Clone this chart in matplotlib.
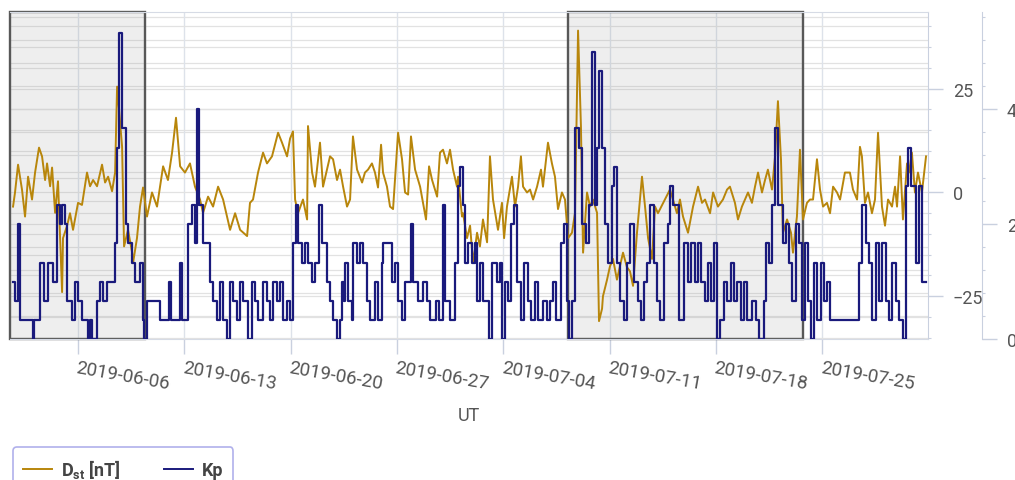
import numpy as np
import matplotlib
matplotlib.use("Agg")
import matplotlib.pyplot as plt
import matplotlib.dates as mdates
from matplotlib.ticker import MultipleLocator
from matplotlib.lines import Line2D

# Dst index [nT], sample times in days since 2019-06-01 00:00 UT
dst_day = [
    0.72, 0.85, 1.05, 1.31, 1.51, 1.71, 1.97, 2.17, 2.43, 2.63, 2.83, 2.96, 3.16, 3.29, 3.49, 3.68,
    3.95, 4.01, 4.28, 4.47, 4.67, 5.00, 5.26, 5.59, 5.79, 5.99, 6.25, 6.58, 6.78, 6.98, 7.24, 7.44,
    7.57, 7.70, 7.90, 8.03, 8.29, 8.56, 8.62, 8.88, 9.08, 9.28, 9.54, 9.87, 10.20, 10.60, 10.92, 11.19,
    11.45, 11.72, 12.04, 12.37, 12.70, 13.03, 13.23, 13.56, 13.89, 14.22, 14.55, 15.01, 15.34, 15.67,
    16.13, 16.32, 16.52, 16.85, 17.18, 17.44, 17.77, 18.17, 18.43, 18.76, 18.96, 19.15, 19.29, 19.48,
    19.81, 20.08, 20.14, 20.41, 20.60, 20.93, 21.13, 21.59, 21.79, 22.05, 22.25, 22.45, 22.71, 22.91,
    23.10, 23.37, 23.70, 23.89, 24.09, 24.35, 24.55, 24.75, 24.95, 25.08, 25.34, 25.54, 25.74, 26.07,
    26.33, 26.53, 26.73, 26.92, 27.19, 27.52, 27.91, 28.11, 28.31, 28.64, 28.83, 29.03, 29.29, 29.49,
    29.69, 29.95, 30.02, 30.28, 30.35, 30.61, 30.81, 31.01, 31.27, 31.46, 31.66, 31.93, 32.12, 32.32,
    32.65, 32.91, 33.05, 33.24, 33.57, 33.77, 33.97, 34.16, 34.30, 34.56, 34.76, 34.96, 35.22, 35.48,
    35.61, 35.94, 36.20, 36.40, 36.60, 36.86, 37.06, 37.26, 37.52, 37.72, 37.92, 38.11, 38.25, 38.51,
    38.71, 38.90, 39.17, 39.30, 39.50, 39.56, 39.83, 40.02, 40.22, 40.48, 40.68, 40.88, 41.14, 41.34,
    41.54, 41.80, 42.13, 42.33, 42.53, 42.79, 42.99, 43.18, 43.64, 43.97, 44.17, 44.43, 44.63, 44.83,
    45.16, 45.49, 45.82, 46.08, 46.28, 46.61, 46.81, 47.13, 47.46, 47.73, 47.92, 48.25, 48.45, 48.71,
    48.91, 49.11, 49.37, 49.57, 49.77, 50.03, 50.23, 50.42, 50.69, 50.89, 51.08, 51.28, 51.41, 51.68,
    51.94, 52.07, 52.33, 52.53, 52.73, 52.99, 53.19, 53.39, 53.65, 53.85, 54.05, 54.31, 54.51, 54.71,
    54.97, 55.17, 55.49, 55.82, 56.02, 56.29, 56.48, 56.61, 56.81, 57.01, 57.27, 57.47, 57.67, 57.93,
    58.13, 58.33, 58.59, 58.79, 58.92, 59.12, 59.31, 59.58, 59.71, 59.90, 60.10, 60.30, 60.56, 60.83,
]
dst_val = [
    -3.4, 0.0, 6.7, 0.7, -5.8, 3.8, -1.7, 4.8, 10.8, 8.7, 3.0, 7.0, 1.5, 6.0, -4.9, 2.7,
    -24.0, -11.0, -8.0, -5.0, -9.0, -2.5, -3.0, 4.8, 1.5, 3.0, 1.5, 6.7, 2.4, 3.8, 0.3, 4.8,
    25.5, 20.0, 11.0, -13.0, -9.0, -14.5, -17.0, -11.0, -3.4, 1.2, -5.8, 0.0, -3.4, 6.3, 3.0, 9.6,
    18.0, 6.3, 4.8, 7.0, 1.4, -1.7, -4.9, -1.0, -3.4, 1.4, -1.7, -9.0, -5.0, -9.0,
    -10.5, -2.5, -1.7, 4.8, 9.6, 7.0, 8.7, 14.4, 12.0, 8.7, 13.0, 14.7, -1.7, -5.0,
    -1.7, -6.5, 16.0, 4.8, 1.4, 12.0, 1.4, 8.7, 8.0, 3.0, 5.5, 1.4, -3.4, -1.7,
    13.5, 5.5, 2.4, 4.8, 5.5, 7.0, 4.8, 1.2, 11.5, 4.8, 1.4, -3.4, -4.0, 14.4,
    8.0, 0.0, -0.5, 13.5, 5.5, 1.4, -6.5, 6.3, 3.0, -1.0, 9.6, 10.3, 7.0, 10.3,
    5.5, 1.4, 3.8, -5.8, -5.0, -11.0, -8.0, -17.0, -9.7, -13.0, -6.5, -12.0, 8.7, -1.7,
    -9.0, -2.5, -11.0, -3.4, 3.8, -3.4, 1.4, 8.7, 1.4, 0.0, 0.7, -1.7, 1.4, 5.5,
    1.4, 12.0, 7.0, 3.8, -4.0, 0.0, -1.7, -11.0, -9.7, -4.9, 39.0, 16.0, -14.5, 0.0,
    -3.4, -1.7, -4.9, -31.0, -28.0, -25.0, -21.0, -17.8, -16.0, -21.0, -17.8, -14.5, -18.0, -19.0,
    -22.5, -9.7, 3.8, -3.4, -11.0, -16.0, -3.4, -5.0, -1.7, 0.7, -1.7, -5.0, -1.7, -5.8,
    -9.7, -3.4, 1.4, -2.5, -1.7, -5.0, 0.0, -3.4, -1.7, 0.7, 1.4, -2.5, -6.5, -3.4,
    -1.7, 0.0, -2.5, 1.4, 4.8, 0.0, 3.0, 5.5, 0.7, 8.7, 22.0, 8.0, -9.7, -6.5,
    -9.7, -14.5, -5.8, 10.3, -6.5, -2.5, -1.7, -1.7, 8.0, 0.7, -3.4, -2.5, -5.0, 1.4,
    0.0, -1.7, 4.8, 4.8, 0.7, -1.7, 11.0, 8.7, -2.5, 0.0, -5.0, -1.7, 14.4, -3.4,
    -8.0, -1.7, -3.4, 1.4, -3.4, 8.7, -6.5, 7.0, 4.8, 9.6, 0.0, 4.8, 0.0, 8.7,
]

# Kp index, value held from each time until the next one
kp_day = [
    0.72, 0.85, 1.05, 1.18, 2.04, 2.10, 2.50, 2.76, 3.03, 3.36, 3.62, 3.82, 3.95, 4.14, 4.28, 4.61,
    4.80, 5.00, 5.26, 5.66, 5.79, 5.92, 6.25, 6.45, 6.65, 6.91, 7.44, 7.57, 7.70, 7.90, 8.16, 8.29,
    8.56, 8.75, 9.08, 9.28, 9.34, 9.54, 10.40, 10.99, 11.12, 11.72, 11.85, 12.24, 12.51, 12.70,
    12.83, 12.97, 13.23, 13.69, 13.89, 14.15, 14.35, 14.55, 14.81, 15.01, 15.21, 15.47, 15.67, 15.86,
    16.19, 16.46, 16.65, 16.85, 17.18, 17.44, 17.64, 17.84, 18.10, 18.30, 18.50, 18.76, 18.96, 19.15,
    19.35, 19.48, 19.75, 19.94, 20.14, 20.41, 20.60, 20.87, 21.06, 21.39, 21.59, 21.79, 22.05, 22.25,
    22.38, 22.51, 22.58, 22.78, 23.04, 23.10, 23.37, 23.57, 23.76, 24.03, 24.22, 24.55, 24.75, 25.01,
    25.08, 25.67, 25.87, 26.07, 26.33, 26.53, 26.92, 27.06, 27.38, 27.71, 27.98, 28.17, 28.57, 28.77,
    29.03, 29.16, 29.49, 29.82, 30.02, 30.15, 30.35, 30.48, 30.68, 30.94, 31.14, 31.27, 31.46, 31.66,
    32.06, 32.26, 32.58, 32.78, 32.91, 33.11, 33.31, 33.51, 33.70, 33.90, 34.16, 34.36, 34.63, 34.82,
    35.09, 35.28, 35.61, 35.88, 36.07, 36.27, 36.47, 36.80, 36.99, 37.19, 37.32, 37.52, 37.72, 37.98,
    38.18, 38.45, 38.64, 38.84, 39.04, 39.17, 39.30, 39.50, 39.70, 39.89, 40.15, 40.29, 40.48, 40.68,
    40.94, 41.14, 41.34, 41.60, 41.87, 42.06, 42.26, 42.46, 42.66, 42.92, 43.12, 43.32, 43.58, 43.84,
    43.97, 44.17, 44.57, 44.90, 45.16, 45.36, 45.62, 45.82, 46.01, 46.28, 46.48, 46.67, 46.87, 47.07,
    47.27, 47.53, 47.73, 47.99, 48.19, 48.38, 48.65, 48.84, 49.04, 49.37, 49.64, 49.84, 50.16, 50.29,
    50.49, 50.69, 50.89, 51.08, 51.41, 51.61, 51.81, 52.01, 52.27, 52.47, 52.66, 52.86, 53.06, 53.26,
    53.45, 53.65, 53.91, 54.11, 54.31, 54.51, 56.42, 56.61, 56.88, 57.07, 57.27, 57.53, 57.73, 57.93,
    58.19, 58.39, 58.59, 58.85, 59.05, 59.31, 59.51, 59.64, 59.84, 60.17, 60.37, 60.56, 60.83,
]
kp_val = [
    1.0, 0.67, 2.0, 0.33, 0.0, 0.33, 1.33, 0.67, 1.33, 1.0, 2.33, 2.0, 2.33, 2.0, 0.67, 0.33,
    1.0, 0.67, 0.33, 0.0, 0.33, 0.0, 0.67, 1.0, 0.67, 1.0, 1.67, 3.33, 5.33, 3.67, 2.0, 1.67,
    1.33, 1.0, 1.33, 0.33, 0.0, 0.67, 0.33, 1.0, 0.33, 1.33, 0.33, 2.0, 2.33, 1.67,
    4.0, 2.33, 1.67, 1.0, 0.67, 0.33, 1.0, 0.33, 0.0, 1.0, 0.67, 0.33, 1.0, 0.67,
    0.0, 1.0, 0.67, 0.33, 1.0, 0.67, 0.33, 1.0, 0.67, 1.0, 0.33, 0.67, 0.33, 1.67,
    2.33, 1.67, 1.33, 1.67, 1.33, 1.0, 1.33, 2.33, 1.67, 1.0, 0.67, 0.33, 0.0, 0.33,
    1.0, 0.67, 1.33, 0.67, 0.33, 1.67, 1.33, 1.67, 1.33, 0.67, 0.33, 1.0, 0.33, 1.33,
    1.67, 1.0, 1.33, 0.67, 0.33, 1.0, 2.0, 1.0, 0.67, 1.0, 0.67, 0.33, 0.67, 0.33,
    2.33, 0.67, 0.33, 1.33, 2.67, 3.0, 2.33, 1.33, 1.67, 1.33, 1.67, 0.67, 1.33, 0.67,
    0.0, 1.33, 1.0, 1.33, 0.0, 1.0, 0.67, 2.0, 2.33, 1.0, 0.33, 1.33, 0.67, 0.33,
    1.0, 0.33, 0.67, 0.33, 0.67, 1.0, 0.33, 1.67, 2.0, 0.67, 0.0, 0.67, 3.67, 3.33,
    2.0, 1.67, 2.33, 5.0, 2.33, 3.33, 4.67, 3.33, 2.0, 1.33, 2.67, 3.0, 1.33, 0.67,
    0.33, 1.33, 2.0, 1.0, 0.67, 0.33, 1.0, 1.33, 2.33, 1.33, 0.67, 0.33, 1.67, 2.0,
    2.67, 2.33, 0.33, 1.67, 1.0, 1.67, 1.0, 1.67, 1.0, 0.67, 1.33, 0.67, 1.67, 0.0,
    0.33, 1.0, 0.67, 1.33, 0.67, 1.0, 0.33, 1.0, 0.33, 0.67, 0.33, 0.0, 0.67, 1.67,
    1.33, 2.33, 3.67, 2.33, 1.67, 2.0, 1.33, 0.67, 2.0, 1.67, 0.33, 1.67, 0.67, 0.0,
    1.33, 0.33, 1.33, 0.67, 1.0, 0.33, 1.33, 2.33, 1.67, 1.33, 0.33, 1.67, 0.67, 1.67,
    0.67, 0.33, 1.33, 0.67, 0.33, 0.0, 2.67, 3.33, 2.67, 1.33, 2.67, 1.0, 1.0,
]

# shaded intervals (days since 2019-06-01)
box_start = [0.52, 37.26]
box_end = [9.41, 52.73]

dst_label = r"$\mathbf{D_{st}}$ [nT]"
kp_label = "Kp"

plt.rcParams["font.family"] = ["Roboto", "DejaVu Sans"]
plt.rcParams["mathtext.fontset"] = "custom"
plt.rcParams["mathtext.rm"] = "Roboto"
plt.rcParams["mathtext.bf"] = "Roboto:bold"

text_c = "#555555"
axis_c = "#c9d0df"
grid_c = "#e2e2e2"
dst_c = "#b8860b"
kp_c = "#1a1a7c"

t0 = mdates.datestr2num("2019-06-01")
dst_t = t0 + np.array(dst_day)
kp_t = t0 + np.array(kp_day)

fig = plt.figure(figsize=(10.15, 4.81), dpi=100)
ax = fig.add_axes([10 / 1015, 1 - 340 / 481, 918 / 1015, 327.5 / 481])

dst_lim = (-35.3, 43.6)
kp_lim = (0, 5.7)

ax.set_xlim(t0 + 0.52, t0 + 60.96)
ax.set_ylim(*dst_lim)

# grid: week lines, Dst every 5 nT, Kp every 0.4
ax.set_axisbelow(True)
ax.xaxis.set_major_locator(mdates.WeekdayLocator(byweekday=mdates.TH))
ax.xaxis.set_major_formatter(mdates.DateFormatter("%Y-%m-%d"))
ax.yaxis.set_major_locator(MultipleLocator(25))
ax.yaxis.set_minor_locator(MultipleLocator(5))
ax.grid(axis="x", which="major", color="#dde2ea", lw=1.0, zorder=0)
ax.grid(axis="y", which="both", color=grid_c, lw=0.9, zorder=0)
for k in np.arange(0, 5.7, 0.4):
    ax.plot([0, 1], [k / kp_lim[1]] * 2, transform=ax.transAxes,
            color=grid_c, lw=0.9, zorder=0.5)

for s, e in zip(box_start, box_end):
    ax.axvspan(t0 + s, t0 + e, facecolor=(0.5, 0.5, 0.5, 0.13),
               edgecolor="#585858", lw=1.7, zorder=1, clip_on=False)

ax.plot(dst_t, dst_val, color=dst_c, lw=1.4, zorder=3)

# Kp on a second axis pushed further right
ax2 = ax.twinx()
ax2.set_ylim(*kp_lim)
ax2.plot(kp_t, kp_val, color=kp_c, lw=1.6, drawstyle="steps-post", zorder=4)
for side in ("top", "bottom", "left"):
    ax2.spines[side].set_visible(False)
ax2.spines["right"].set_position(("outward", 54 * 0.72))
ax2.spines["right"].set_color(axis_c)
ax2.yaxis.set_major_locator(MultipleLocator(2))
ax2.yaxis.set_minor_locator(MultipleLocator(0.4))
ax2.tick_params(axis="y", which="major", length=11, width=1, color=axis_c,
                pad=7, labelsize=13, labelcolor=text_c)
ax2.tick_params(axis="y", which="minor", length=2.5, width=0.8, color=axis_c)

# Dst ticks on the right side of the main axes
for sp in ax.spines.values():
    sp.set_color("#d6dbe5")
ax.spines["right"].set_color(axis_c)
ax.spines["left"].set_visible(False)
ax.yaxis.tick_right()
ax.tick_params(axis="y", which="major", left=False, right=True, labelleft=False,
               labelright=True, length=11, width=1, color=axis_c,
               pad=7, labelsize=13, labelcolor=text_c)
ax.tick_params(axis="y", which="minor", left=False, right=True, length=2.5,
               width=0.8, color=axis_c)
ax.tick_params(axis="x", which="major", length=11, width=1, color=axis_c,
               pad=3, labelsize=13.5, labelcolor=text_c, labelrotation=-10)
for lbl in ax.get_xticklabels():
    lbl.set_horizontalalignment("left")
    lbl.set_verticalalignment("top")
    lbl.set_rotation_mode("anchor")

ax.set_xlabel("UT", fontsize=13, color=text_c)
ax.xaxis.set_label_coords(0.5, -0.205)

handles = [Line2D([], [], color=dst_c, lw=1.4), Line2D([], [], color=kp_c, lw=1.4)]
leg = fig.legend(handles, [dst_label, kp_label], loc="upper left",
                 bbox_to_anchor=(13 / 1015, 1 - 448 / 481), borderaxespad=0,
                 ncol=2, frameon=True, fancybox=True, borderpad=0.55,
                 handlelength=1.6, handletextpad=0.5, columnspacing=2.4,
                 prop={"family": "Roboto", "size": 13, "weight": "bold"})
leg.get_frame().set_edgecolor("#9d9de6")
leg.get_frame().set_linewidth(1.2)
for t in leg.get_texts():
    t.set_color("#444444")

fig.savefig("out.png", dpi=100)
